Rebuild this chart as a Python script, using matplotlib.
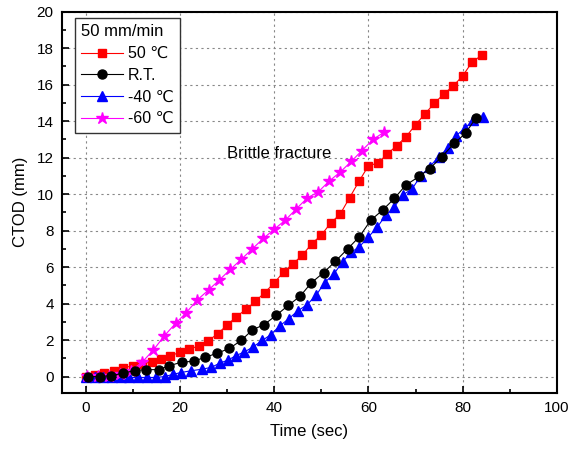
import matplotlib
matplotlib.use("Agg")
import matplotlib.pyplot as plt
from matplotlib.ticker import MultipleLocator

plt.rcParams['font.family'] = ['Liberation Sans', 'DejaVu Sans']

# ---- data ----
t_50 = [0, 2, 4, 6, 8, 10, 12, 14, 16, 18, 20, 22, 24, 26, 28, 30, 32, 34, 36, 38, 40,
        42, 44, 46, 48, 50, 52, 54, 56, 58, 60, 62, 64, 66, 68, 70, 72, 74, 76, 78, 80, 82, 84]
v_50 = [0.0, 0.1, 0.2, 0.33, 0.47, 0.6, 0.7, 0.8, 0.95, 1.15, 1.32, 1.5, 1.68, 1.96, 2.34,
        2.82, 3.28, 3.68, 4.12, 4.6, 5.13, 5.73, 6.19, 6.65, 7.29, 7.75, 8.42, 8.9, 9.8, 10.7,
        11.55, 11.7, 12.2, 12.65, 13.15, 13.8, 14.4, 14.98, 15.49, 15.93, 16.48, 17.24, 17.6]

t_rt = [0.5, 3.0, 5.4, 7.9, 10.4, 12.8, 15.5, 17.8, 20.4, 22.9, 25.4, 27.9, 30.5, 33.0, 35.4,
        37.9, 40.4, 43.0, 45.5, 47.9, 50.5, 53.0, 55.6, 58.1, 60.5, 63.0, 65.5, 67.9, 70.8,
        73.0, 75.6, 78.2, 80.6, 82.8]
v_rt = [0.0, 0.0, 0.05, 0.18, 0.33, 0.38, 0.38, 0.6, 0.79, 0.84, 1.06, 1.28, 1.54, 1.98, 2.56,
        2.85, 3.35, 3.9, 4.4, 5.14, 5.7, 6.32, 7.0, 7.67, 8.57, 9.12, 9.76, 10.49, 10.97, 11.4,
        12.05, 12.78, 13.33, 14.18]

t_m40 = [0, 1.9, 3.7, 5.6, 7.5, 9.3, 11.2, 13.1, 14.9, 16.8, 18.5, 20.2, 22.4, 24.6, 26.6,
         28.6, 30.2, 31.9, 33.7, 35.5, 37.5, 39.3, 41.2, 43.1, 45.0, 46.9, 48.9, 50.7, 52.6,
         54.5, 56.3, 58.1, 60.0, 61.9, 63.7, 65.5, 67.3, 69.3, 71.1, 73.0, 74.9, 76.8, 78.6,
         80.4, 82.2, 84.2]
v_m40 = [-0.05, -0.05, -0.05, -0.05, -0.05, -0.05, -0.05, -0.05, -0.05, 0.0, 0.12, 0.22, 0.32,
         0.4, 0.5, 0.75, 0.9, 1.15, 1.35, 1.62, 1.98, 2.3, 2.78, 3.17, 3.6, 3.92, 4.45, 5.15,
         5.6, 6.28, 6.8, 7.12, 7.65, 8.2, 8.85, 9.3, 9.95, 10.3, 11.0, 11.5, 12.05, 12.5, 13.2,
         13.6, 14.05, 14.25]

t_m60 = [0.3, 2.6, 5.0, 7.3, 9.7, 12.0, 14.4, 16.7, 19.1, 21.3, 23.7, 26.1, 28.4, 30.7, 33.0,
         35.3, 37.7, 40.0, 42.4, 44.7, 47.0, 49.4, 51.7, 54.0, 56.4, 58.6, 61.0, 63.3]
v_m60 = [0.05, 0.02, 0.05, 0.12, 0.33, 0.79, 1.46, 2.23, 2.92, 3.49, 4.2, 4.75, 5.3, 5.87,
         6.42, 6.98, 7.57, 8.07, 8.58, 9.19, 9.78, 10.13, 10.72, 11.2, 11.8, 12.38, 13.0, 13.39]

labels = ["50 ℃", "R.T.", "-40 ℃", "-60 ℃"]
legend_title = "50 mm/min"
annotation = "Brittle fracture"
xlabel = "Time (sec)"
ylabel = "CTOD (mm)"

# ---- plot ----
fig = plt.figure(figsize=(5.70, 4.54), dpi=100)
ax = fig.add_axes([62/570, 1 - 393/454, (557 - 62)/570, (393 - 11.6)/454])

ax.plot(t_50, v_50, color='#ff0000', marker='s', ms=6, lw=0.8, label=labels[0], zorder=3)
ax.plot(t_rt, v_rt, color='black', marker='o', ms=6.5, lw=0.8, label=labels[1], zorder=4)
ax.plot(t_m40, v_m40, color='#0000ff', marker='^', ms=7, lw=0.8, label=labels[2], zorder=3)
ax.plot(t_m60, v_m60, color='#ff00ff', marker='*', ms=9, lw=0.8, label=labels[3], zorder=3)

ax.set_xlim(-5, 100)
ax.set_ylim(-0.9, 20)
ax.xaxis.set_major_locator(MultipleLocator(20))
ax.xaxis.set_minor_locator(MultipleLocator(10))
ax.yaxis.set_major_locator(MultipleLocator(2))
ax.yaxis.set_minor_locator(MultipleLocator(1))
ax.tick_params(which='both', direction='in', top=False, right=False, labelsize=11,
               width=1.2, pad=6)
ax.tick_params(which='major', length=5)
ax.tick_params(which='minor', length=3)
for s in ax.spines.values():
    s.set_linewidth(1.5)

ax.grid(True, which='major', color='#888888', linestyle=(0, (2, 3)), linewidth=0.8)
ax.set_axisbelow(True)

ax.set_xlabel(xlabel, fontsize=12, labelpad=6)
ax.set_ylabel(ylabel, fontsize=12, labelpad=6)

ax.text(30, 12.25, annotation, fontsize=12, va='center', ha='left')

leg = ax.legend(title=legend_title, loc='upper left', bbox_to_anchor=(0.026, 0.983),
                borderaxespad=0, fontsize=11.5, title_fontsize=12, frameon=True,
                fancybox=False, edgecolor='#333333', handlelength=2.6, handletextpad=0.3,
                labelspacing=0.42, borderpad=0.4, alignment='left', framealpha=1)
leg.get_frame().set_linewidth(1.0)

fig.savefig("out.png", dpi=100)
